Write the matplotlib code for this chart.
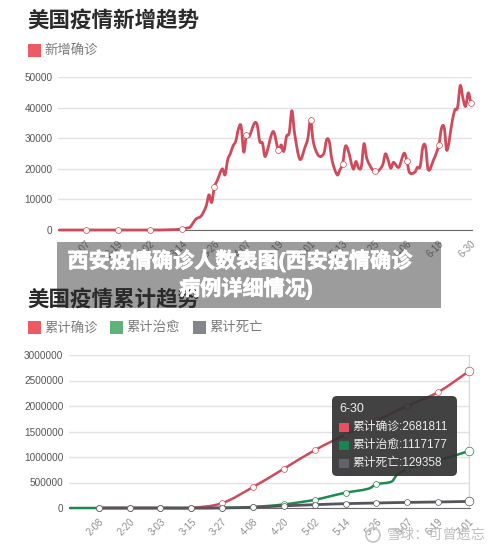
#!/usr/bin/env python3
"""US epidemic trend charts with a caption band on top."""
import matplotlib
matplotlib.use("Agg")
import matplotlib.pyplot as plt
import matplotlib.patheffects as pe
from matplotlib.patches import FancyBboxPatch, PathPatch, Rectangle, Circle
from matplotlib.path import Path

plt.rcParams["font.family"] = ["Liberation Sans", "Noto Sans CJK SC", "DejaVu Sans"]

# days counted from 2-07
new_days = [-10, 0, 12, 24, 30, 36, 38, 39, 41, 43, 44, 45, 46, 47, 48, 49, 51, 52, 53, 54, 55, 56, 57, 58, 59,
            60, 61, 63, 64, 65, 66, 67, 70, 72, 73, 74, 75, 76, 77, 78, 80, 82, 83, 84, 85, 87, 89, 90, 91,
            92, 94, 95, 96, 97, 98, 100, 101, 102, 103, 104, 105, 107, 108, 109, 111, 112, 113, 114, 115,
            117, 119, 120, 121, 123, 124, 125, 126, 127, 128, 130, 132, 133, 134, 135, 137, 138, 139,
            140, 141, 142, 143, 144]
new_vals = [0, 0, 0, 0, 50, 300, 700, 1000, 3500, 4500, 6000, 8000, 11500, 9000, 14000, 16000, 20000, 18000,
            23000, 25000, 27500, 29000, 33000, 34000, 25500,
            31000, 30500, 34900, 34400, 28900, 28400, 24000, 32200, 26000, 27800, 25700, 30600, 31700,
            39000, 31700, 23100, 27300, 30000, 36000, 28900, 24300, 25100, 29500, 28900,
            22900, 18000, 19700, 21600, 27300, 26200, 19900, 22400, 20200, 20700, 28200, 23500, 19900,
            19400, 19100, 21300, 24900, 22900, 20200, 22100,
            20500, 25100, 22700, 18800, 18900, 20500, 20700, 27100, 27300, 19700, 22900, 27800, 33300,
            33500, 26000, 35500, 39300, 40000, 47200, 43100, 40400, 44800, 41500]
new_ticks = [0, 12, 24, 36, 48, 60, 72, 84, 96, 108, 120, 132, 144]
new_labels = ["2-07", "2-19", "3-02", "3-14", "3-26", "4-07", "4-19", "5-01", "5-13", "5-25", "6-06", "6-18", "6-30"]
new_yticks = [0, 10000, 20000, 30000, 40000, 50000]

# days counted from 2-08
total_ticks = [0, 12, 24, 36, 48, 60, 72, 84, 96, 108, 120, 132, 144]
total_labels = ["2-08", "2-20", "3-03", "3-15", "3-27", "4-08", "4-20", "5-02", "5-14", "5-26", "6-07", "6-19", "7-01"]
total_yticks = [0, 500000, 1000000, 1500000, 2000000, 2500000, 3000000]
confirmed = [12, 15, 100, 3500, 95000, 410000, 770000, 1133000, 1440000, 1716000, 2000000, 2272000, 2681811]
deaths = [0, 0, 2, 60, 1500, 14000, 42000, 65000, 85000, 98000, 110000, 118000, 129358]
cured_days = [-11, 0, 12, 24, 36, 48, 60, 72, 84, 90, 96, 105, 108, 114, 116, 120, 132, 144]
cured = [0, 1, 5, 10, 50, 2000, 20000, 70000, 160000, 230000, 300000, 380000, 465000, 520000, 650000, 766000, 930000, 1117177]

W, H = 500, 551
RED = "#cf4a5a"
GREEN = "#1f8a50"
DARK = "#55555b"


def add_axes_px(fig, left, right, top, bottom):
    return fig.add_axes([left / W, 1 - bottom / H, (right - left) / W, (bottom - top) / H])


def smooth_line(ax, xs, ys, color, lw):
    # catmull-rom style bezier through the read values, like echarts smooth lines
    verts = [(xs[0], ys[0])]
    codes = [Path.MOVETO]
    n = len(xs)
    for i in range(n - 1):
        i0, i3 = max(i - 1, 0), min(i + 2, n - 1)
        dx = xs[i + 1] - xs[i]
        m1 = (ys[i + 1] - ys[i0]) / (xs[i + 1] - xs[i0])
        m2 = (ys[i3] - ys[i]) / (xs[i3] - xs[i])
        verts += [(xs[i] + dx / 3, ys[i] + m1 * dx / 3),
                  (xs[i + 1] - dx / 3, ys[i + 1] - m2 * dx / 3),
                  (xs[i + 1], ys[i + 1])]
        codes += [Path.CURVE4] * 3
    ax.add_patch(PathPatch(Path(verts, codes), fc="none", ec=color, lw=lw, capstyle="round",
                           joinstyle="round", clip_on=False, zorder=3))


def tick_markers(ax, xs, ys, color, ms=4.2):
    ax.plot(xs, ys, ls="none", marker="o", ms=ms, mfc="white", mec=color, mew=0.5, clip_on=False, zorder=4)


def style_axes(ax, ticks, labels, yticks):
    ax.set_xticks(ticks)
    ax.set_xticklabels(labels, rotation=45, ha="right", rotation_mode="anchor",
                       fontsize=7, color="#8f8f8f")
    ax.set_yticks(yticks)
    ax.set_yticklabels([str(v) for v in yticks], fontsize=7.2, color="#555555")
    ax.tick_params(length=0, axis="both")
    ax.tick_params(axis="x", pad=6)
    ax.tick_params(axis="y", pad=4)
    ax.grid(axis="y", color="#e2e2e2", lw=1)
    ax.set_axisbelow(True)
    for side in ["top", "right", "left"]:
        ax.spines[side].set_visible(False)
    ax.spines["bottom"].set_color("#6a6a6a")
    ax.spines["bottom"].set_linewidth(0.8)


fig = plt.figure(figsize=(W / 100, H / 100), dpi=100)

# new cases
ax1 = add_axes_px(fig, 58, 472, 77, 230)
smooth_line(ax1, new_days, new_vals, RED, 2.0)
tick_markers(ax1, new_ticks, [new_vals[new_days.index(d)] for d in new_ticks], RED)
ax1.set_xlim(-10.5, 144.4)
ax1.set_ylim(0, 50000)
style_axes(ax1, new_ticks, new_labels, new_yticks)

# cumulative cases
ax2 = add_axes_px(fig, 69, 469.5, 355, 508)
ax2.axvline(total_ticks[-1], color="#d8d8d8", lw=1)
smooth_line(ax2, cured_days, cured, GREEN, 1.8)
smooth_line(ax2, total_ticks, confirmed, RED, 1.8)
smooth_line(ax2, total_ticks, deaths, DARK, 2.0)
ax2.plot([-11.5, 0], [0, 0], color=DARK, lw=2.0)
tick_markers(ax2, total_ticks[:-1], [cured[cured_days.index(d)] for d in total_ticks[:-1]], GREEN)
tick_markers(ax2, total_ticks[:-1], confirmed[:-1], RED)
tick_markers(ax2, total_ticks[:-1], deaths[:-1], DARK)
for vals, col in [(confirmed, RED), (cured, GREEN), (deaths, DARK)]:
    tick_markers(ax2, total_ticks[-1:], vals[-1:], col, ms=6.2)
ax2.set_xlim(-11.55, 144.2)
ax2.set_ylim(0, 3000000)
style_axes(ax2, total_ticks, total_labels, total_yticks)

# overlay in pixel coordinates: titles, legends, tooltip, caption band
top = fig.add_axes([0, 0, 1, 1], facecolor="none")
top.set_xlim(0, W)
top.set_ylim(H, 0)
top.axis("off")

top.text(27, 22, "美国疫情新增趋势", fontsize=15.5, color="#2a2a2a", va="center", fontweight="bold")
top.text(27, 301, "美国疫情累计趋势", fontsize=15.5, color="#2a2a2a", va="center", fontweight="bold")

top.add_patch(Rectangle((28, 43.5), 13, 13, color="#ee5a63", lw=0))
top.text(44, 50, "新增确诊", fontsize=9.6, color="#7a7a7a", va="center")
for x, col, name in [(28, "#ee5a63", "累计确诊"), (110, "#5fb27a", "累计治愈"), (193, "#85858c", "累计死亡")]:
    top.add_patch(Rectangle((x, 321), 13, 13, color=col, lw=0))
    top.text(x + 16, 328, name, fontsize=9.6, color="#7a7a7a", va="center")

top.add_patch(FancyBboxPatch((332, 396), 125, 80, boxstyle="round,pad=0,rounding_size=5",
                             facecolor="#323232", alpha=0.92, lw=0))
top.text(339, 409, "6-30", fontsize=9, color="#eeeeee", va="center")
tip_rows = [(427, "#e8505f", "累计确诊:2681811"), (445, "#15874c", "累计治愈:1117177"), (463, "#62626a", "累计死亡:129358")]
for y, col, txt in tip_rows:
    top.add_patch(Rectangle((339, y - 4.5), 9.5, 9, color=col, lw=0))
    top.text(352, y, txt, fontsize=8.5, color="#eeeeee", va="center")

# watermark
top.add_patch(Circle((373, 535), 7, fc="none", ec="#c4c4c4", lw=1.2))
top.text(387, 535, "雪球：可曾遗忘", fontsize=10.2, color="#c0c0c0", va="center")

top.add_patch(Rectangle((57, 242), 384, 66, facecolor="black", alpha=0.39, lw=0))
stroke = [pe.withStroke(linewidth=0.5, foreground="white")]
top.text(240, 260.5, "西安疫情确诊人数表图(西安疫情确诊", fontsize=15.2, color="white", fontweight="bold",
         ha="center", va="center", path_effects=stroke)
top.text(246, 288, "病例详细情况)", fontsize=15.2, color="white", fontweight="bold", ha="center", va="center",
         path_effects=stroke)

fig.savefig("out.png", dpi=100)
